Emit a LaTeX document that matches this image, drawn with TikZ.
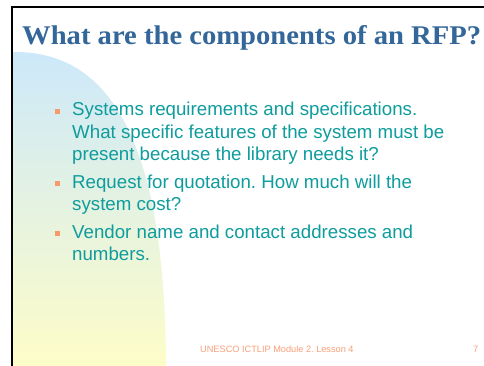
\documentclass[tikz,border=0pt]{standalone}
\usepackage{fontspec}
\setmainfont{Liberation Sans}
\newfontfamily\titlefont{Liberation Serif}
\frenchspacing
\definecolor{titleblue}{HTML}{336699}
\definecolor{bodyteal}{HTML}{0E9C9C}
\definecolor{bulletorange}{HTML}{F79A6A}
\definecolor{footorange}{HTML}{F9A07A}
\definecolor{shadetop}{HTML}{CCE8FA}
\definecolor{shadebottom}{HTML}{FEFDC8}
\tikzset{
  slidetitle/.style={anchor=base west, inner sep=0pt, text=titleblue, xscale=1.06,
    font=\titlefont\bfseries\fontsize{27}{30}\selectfont},
  itemtext/.style={anchor=base west, inner sep=0pt, text=bodyteal,
    font=\fontsize{18.7}{22.5}\selectfont},
  bulletsq/.style={fill=bulletorange, minimum size=4.8pt, inner sep=0pt},
  footer/.style={anchor=base west, inner sep=0pt, text=footorange,
    font=\fontsize{9.2}{11}\selectfont},
}
\begin{document}
\begin{tikzpicture}[x=1pt,y=-1pt]
  \useasboundingbox (0,0) rectangle (484,366);
  \fill[white] (0,0) rectangle (484,366);
  % soft quarter-ellipse backdrop
  \shade[top color=shadetop, bottom color=shadebottom, draw=none]
    (12,52) .. controls (122,50) and (165,165) .. (166,366) -- (12,366) -- cycle;
  % slide frame
  \draw[line width=2pt] (12,367) -- (12,7) -- (485,7);
  % title
  \node[slidetitle] (title) at (22,45) {What are the components of an RFP?};
  % bullet items
  \node[bulletsq] (b1) at (57.5,111.5) {};
  \node[itemtext] (t1) at (72,116) {\parbox[t]{400pt}{Systems requirements and specifications.\\
    What specific features of the system must be\\
    present because the library needs it?}};
  \node[bulletsq] (b2) at (57.5,183.5) {};
  \node[itemtext] (t2) at (72,188) {\parbox[t]{400pt}{Request for quotation. How much will the\\
    system cost?}};
  \node[bulletsq] (b3) at (57.5,233.5) {};
  \node[itemtext] (t3) at (72,238) {\parbox[t]{400pt}{Vendor name and contact addresses and\\
    numbers.}};
  % footer
  \node[footer] (foot) at (200,352) {UNESCO ICTLIP Module 2. Lesson 4};
  \node[footer] (page) at (473,352) {7};
\end{tikzpicture}
\end{document}
